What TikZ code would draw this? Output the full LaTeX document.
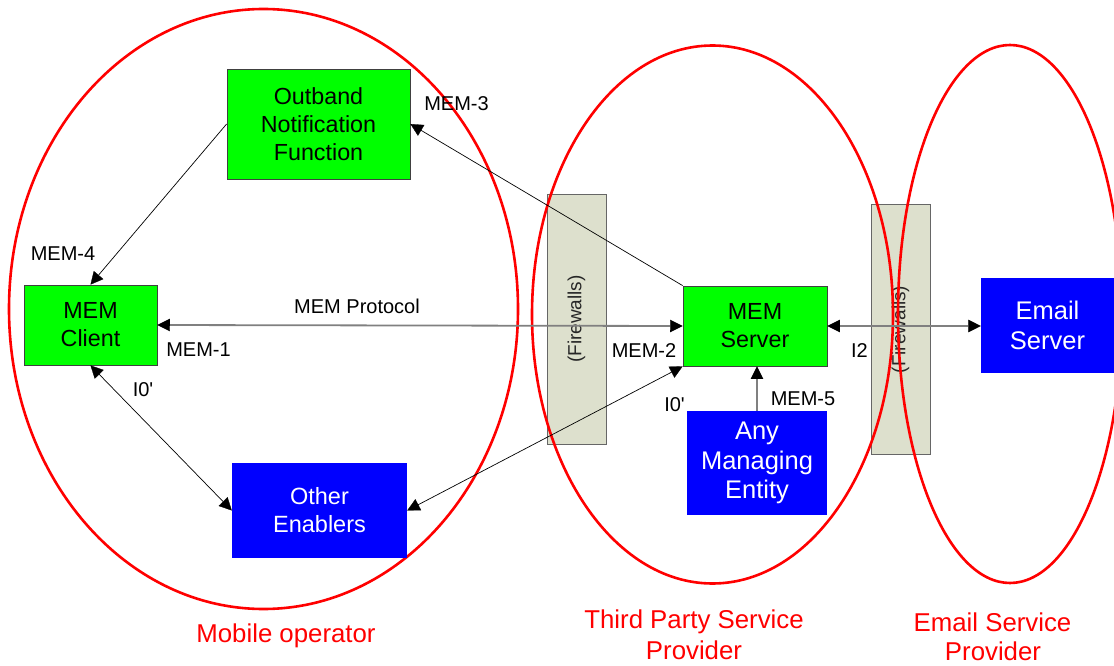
\documentclass[tikz,border=0pt]{standalone}
\usepackage{fontspec}
\setmainfont{Liberation Sans}
\usetikzlibrary{arrows.meta}
\definecolor{memgreen}{RGB}{0,255,0}
\definecolor{memblue}{RGB}{0,0,255}
\definecolor{fwfill}{RGB}{221,224,205}
\definecolor{ellred}{RGB}{255,0,0}
\definecolor{lgray}{RGB}{128,128,128}
\begin{document}
\begin{tikzpicture}[x=1pt,y=-1pt,
  greenbox/.style={draw=black!75, line width=0.8pt, fill=memgreen, align=center, inner sep=0pt, font=\fontsize{23.3}{28}\selectfont},
  bluebox/.style={fill=memblue, text=white, align=center, inner sep=0pt},
  fwbox/.style={draw=black!60, line width=0.8pt, fill=fwfill, inner sep=0pt, minimum width=59pt, minimum height=250pt},
  fwtext/.style={rotate=90, text=black!85, inner sep=0pt, font=\fontsize{19}{22}\selectfont},
  region/.style={draw=ellred, line width=2.6pt},
  regionlabel/.style={text=ellred, anchor=base, inner sep=0pt, font=\fontsize{25.8}{31}\selectfont},
  lbl/.style={inner sep=0pt, font=\fontsize{20}{24}\selectfont},
  tipa/.tip={Triangle[length=12.5pt,width=12.5pt,black,line width=0.3pt]},
  conn/.style={draw=black, line width=0.7pt},
  gconn/.style={draw=lgray, line width=1.8pt}
]
\useasboundingbox (0,0) rectangle (1114,666);

% firewalls
\node[fwbox] (fw1) at (576.5,319) {};
\node[fwtext] (fw1t) at (fw1) {(Firewalls)};
\node[fwbox] (fw2) at (900.5,329.5) {};
\node[fwtext] (fw2t) at (fw2) {(Firewalls)};

% regions
\draw[region] (263.5,309) ellipse [x radius=254.5, y radius=300];
\draw[region] (712.5,314.5) ellipse [x radius=180.5, y radius=269];
\draw[region] (1010,314) ellipse [x radius=112, y radius=269];

% boxes
\node[greenbox, minimum width=183pt, minimum height=110pt] (onf) at (318.5,124) {Outband\\Notification\\Function};
\node[greenbox, minimum width=133pt, minimum height=80pt] (client) at (90.5,325) {MEM\\Client};
\node[greenbox, minimum width=144pt, minimum height=80pt] (server) at (755,326) {MEM\\Server};
\node[bluebox, minimum width=175pt, minimum height=95pt, font=\fontsize{23.5}{28}\selectfont] (other) at (319.5,510.5) {Other\\Enablers};
\node[bluebox, minimum width=140pt, minimum height=104pt, font=\fontsize{25.5}{29.5}\selectfont] (any) at (757,463) {Any\\Managing\\Entity};
\node[bluebox, minimum width=133pt, minimum height=95pt, font=\fontsize{25.5}{30.5}\selectfont] (email) at (1047.5,325.5) {Email\\Server};

% connectors
\draw[gconn, tipa-tipa] (client.east) -- (server.west);
\draw[gconn, tipa-tipa] (server.east) -- (server.east -| email.west);
\draw[gconn, -tipa] (any.north) -- (any.north |- server.south);
\draw[conn, -tipa] (server.north west) -- (onf.east);
\draw[conn, -tipa] (onf.west) -- (client.north);
\draw[conn, tipa-tipa] (client.south) -- (other.west);
\draw[conn, tipa-tipa] (other.east) -- (server.south west);

% labels
\node[lbl] (lproto) at (357,306) {MEM Protocol};
\node[lbl] (l1) at (198.5,350) {MEM-1};
\node[lbl] (l2) at (644,350.5) {MEM-2};
\node[lbl] (l3) at (456.5,103.5) {MEM-3};
\node[lbl] (l4) at (63,254) {MEM-4};
\node[lbl] (l5) at (803,398.5) {MEM-5};
\node[lbl] (li2) at (859.5,350.5) {I2};
\node[lbl] (li0a) at (143,390) {I0\textquotesingle};
\node[lbl] (li0b) at (674.5,404.5) {I0\textquotesingle};

% region labels
\node[regionlabel] (rmob) at (286,642.7) {Mobile operator};
\node[regionlabel] (rtp1) at (694,628) {Third Party Service};
\node[regionlabel] (rtp2) at (694,659) {Provider};
\node[regionlabel] (rem1) at (992.5,631) {Email Service};
\node[regionlabel] (rem2) at (993,660) {Provider};
\end{tikzpicture}
\end{document}
